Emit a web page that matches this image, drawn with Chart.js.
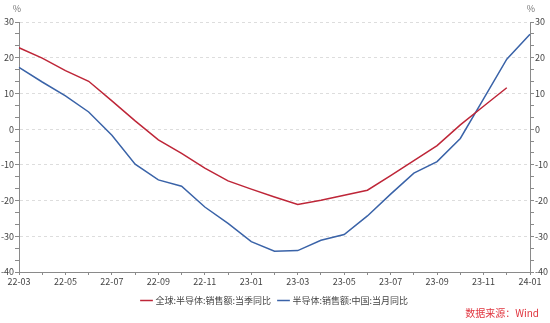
<!DOCTYPE html>
<html>
<head>
<meta charset="utf-8">
<script src="https://cdn.jsdelivr.net/npm/chart.js@4/dist/chart.umd.min.js"></script>
<style>
  html, body { margin: 0; padding: 0; background: #fff; }
  #wrap { width: 550px; height: 323px; position: relative; }
</style>
</head>
<body>
<div id="wrap"><canvas id="semiChart"></canvas></div>
<script>
// months 22-03 .. 24-01
const months = ['22-03','22-04','22-05','22-06','22-07','22-08','22-09','22-10','22-11','22-12',
  '23-01','23-02','23-03','23-04','23-05','23-06','23-07','23-08','23-09','23-10','23-11','23-12','24-01'];

// 全球:半导体:销售额:当季同比 (%)
const globalYoY = [22.8, 19.9, 16.4, 13.4, 7.9, 2.3, -3.0, -6.8, -10.9, -14.5,
  -16.8, -19.0, -21.1, -19.9, -18.5, -17.1, -13.0, -8.8, -4.6, 1.2, 6.4, 11.6, null];

// 半导体:销售额:中国:当月同比 (%)
const chinaYoY = [17.3, 13.2, 9.3, 4.8, -1.7, -9.8, -14.2, -16.0, -21.8, -26.4,
  -31.5, -34.2, -34.0, -31.1, -29.5, -24.3, -18.2, -12.3, -9.1, -2.6, 8.5, 19.6, 26.6];

const yLabels = [-40, -30, -20, -10, 0, 10, 20, 30];

const FONT = "'Noto Sans CJK SC', 'Noto Sans', sans-serif";
const RED = '#BE2638';
const BLUE = '#3A63A8';
const AXIS = '#8a8a8a';

const isMajor = v => yLabels.some(l => Math.abs(l - v) < 1e-6);

// major ticks every 10, two minor ticks between them
function buildYTicks(scale) {
  const t = [];
  for (let i = 0; i < yLabels.length; i++) {
    t.push({ value: yLabels[i] });
    if (i < yLabels.length - 1) {
      const step = (yLabels[i + 1] - yLabels[i]) / 3;
      t.push({ value: yLabels[i] + step });
      t.push({ value: yLabels[i] + 2 * step });
    }
  }
  scale.ticks = t;
}

const extras = {
  id: 'extras',
  afterDraw(chart) {
    const { ctx, chartArea } = chart;
    ctx.save();
    ctx.font = '9px ' + FONT;
    ctx.fillStyle = '#777';
    ctx.textAlign = 'center';
    ctx.textBaseline = 'middle';
    ctx.fillText('%', chartArea.left - 2, 9);
    ctx.fillText('%', chartArea.right + 1, 9);
    ctx.font = '10px ' + FONT;
    ctx.fillStyle = '#E0353F';
    ctx.textAlign = 'right';
    ctx.fillText('数据来源：Wind', 539, 313);
    ctx.restore();
  }
};

const yCommon = {
  min: -40,
  max: 30,
  afterBuildTicks: buildYTicks,
  border: { color: AXIS, width: 1, dash: [3, 3] },
  ticks: {
    autoSkip: false,
    padding: 1,
    color: '#444',
    font: { family: FONT, size: 9 },
    callback: v => isMajor(v) ? String(Math.round(v)) : ''
  }
};

new Chart(document.getElementById('semiChart'), {
  type: 'line',
  data: {
    labels: months,
    datasets: [
      {
        label: '全球:半导体:销售额:当季同比',
        data: globalYoY,
        borderColor: RED,
        backgroundColor: RED,
        borderWidth: 1.5,
        pointRadius: 0,
        tension: 0,
        yAxisID: 'y'
      },
      {
        label: '半导体:销售额:中国:当月同比',
        data: chinaYoY,
        borderColor: BLUE,
        backgroundColor: BLUE,
        borderWidth: 1.5,
        pointRadius: 0,
        tension: 0,
        yAxisID: 'y'
      }
    ]
  },
  options: {
    responsive: true,
    maintainAspectRatio: false,
    animation: false,
    layout: { padding: { top: 22, bottom: 8, left: 0, right: 0 } },
    plugins: {
      legend: {
        position: 'bottom',
        labels: {
          usePointStyle: true,
          pointStyle: 'line',
          boxWidth: 12,
          padding: 8,
          color: '#444',
          font: { family: FONT, size: 9 }
        }
      },
      tooltip: { enabled: false }
    },
    scales: {
      x: {
        offset: false,
        border: { color: AXIS, width: 1 },
        grid: { drawOnChartArea: false, drawTicks: true, tickLength: 3, tickColor: AXIS },
        ticks: {
          autoSkip: false,
          maxRotation: 0,
          padding: 1,
          color: '#444',
          font: { family: FONT, size: 9 },
          callback: (v, i) => i % 2 === 0 ? months[i] : ''
        },
        afterFit: s => { s.height = 16; }
      },
      y: {
        ...yCommon,
        position: 'left',
        grid: {
          drawTicks: true,
          tickLength: 4,
          tickColor: AXIS,
          color: c => (c.tick && isMajor(c.tick.value) && c.tick.value > -40) ? '#dddddd' : 'rgba(0,0,0,0)'
        },
        afterFit: s => { s.width = 19; }
      },
      y2: {
        ...yCommon,
        position: 'right',
        grid: { drawOnChartArea: false, drawTicks: true, tickLength: 4, tickColor: AXIS },
        ticks: { ...yCommon.ticks, padding: 1 },
        afterFit: s => { s.width = 20; }
      }
    }
  },
  plugins: [extras]
});
</script>
</body>
</html>
